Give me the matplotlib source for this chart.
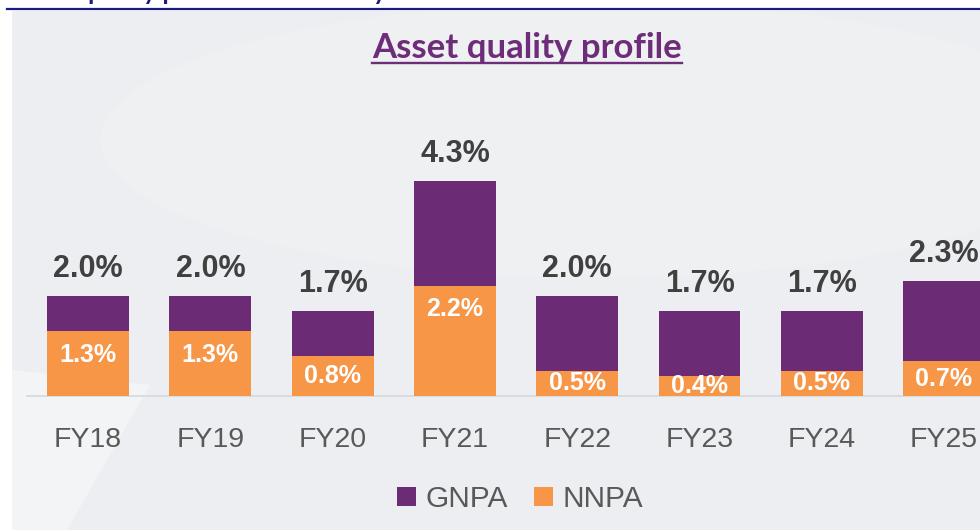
import matplotlib
matplotlib.use("Agg")
import matplotlib.pyplot as plt
from matplotlib.patches import Rectangle, Polygon, Ellipse, Patch
from matplotlib.lines import Line2D
import numpy as np

# ---- data ----
years = ["FY18", "FY19", "FY20", "FY21", "FY22", "FY23", "FY24", "FY25"]
gnpa = [2.0, 2.0, 1.7, 4.3, 2.0, 1.7, 1.7, 2.3]
nnpa = [1.3, 1.3, 0.8, 2.2, 0.5, 0.4, 0.5, 0.7]
title = "Asset quality profile"
top_text = "Asset quality profile and solvency"

PURPLE = "#6b2c75"
ORANGE = "#f79646"
LABEL = "#404040"
TICK = "#595959"
TITLE_C = "#6e2d78"
NAVY = "#1c1c7e"
PANEL = "#eceef1"

W, H = 980, 530
fig = plt.figure(figsize=(W / 100, H / 100), dpi=100)
fig.patch.set_facecolor("white")

def fx(px):
    return px / W

def fy(py):
    return (H - py) / H

# background panel
fig.patches.append(Rectangle((fx(12), 0), 1 - fx(12), fy(11), transform=fig.transFigure,
                             facecolor=PANEL, edgecolor="none", zorder=-3))
# subtle swoosh highlights
fig.patches.append(Ellipse((fx(600), fy(140)), fx(1000), 0.52, transform=fig.transFigure,
                           facecolor="white", edgecolor="none", alpha=0.12, zorder=-2))
fig.patches.append(Polygon([(fx(12), fy(370)), (fx(150), fy(385)), (fx(67), fy(530)), (fx(12), fy(530))],
                           closed=True, transform=fig.transFigure,
                           facecolor="white", edgecolor="none", alpha=0.4, zorder=-2))
# top navy rule
fig.lines.append(Line2D([fx(7), 1], [fy(9), fy(9)], transform=fig.transFigure,
                        color=NAVY, lw=1.6, zorder=2))
# truncated heading at the very top (cut off by the page edge, as in the source)
fig.text(fx(12), fy(0), top_text, color=NAVY, fontsize=18, fontweight="bold",
         family=["Lato", "DejaVu Sans"], ha="left", va="baseline", zorder=3)

# axes
ax = fig.add_axes([fx(27), fy(396), 1 - fx(27), fy(100) - fy(396)])
ax.set_zorder(1)
ax.set_facecolor("none")
x = np.arange(len(years))
bw = 0.67
ax.bar(x, gnpa, width=bw, color=PURPLE, zorder=2)
ax.bar(x, nnpa, width=bw, color=ORANGE, zorder=3)
ax.set_xlim(-0.5, 7.294)
ax.set_ylim(0, 5.92)

for xi, g in zip(x, gnpa):
    ax.annotate(f"{g:.1f}%", (xi, g), xytext=(0, 13.5), textcoords="offset points",
                ha="center", va="baseline", fontsize=22, fontweight="bold",
                color=LABEL, family=["Liberation Sans", "DejaVu Sans"], zorder=4,
                annotation_clip=False)
for xi, n in zip(x, nnpa):
    yv = max(n / 2, n - 0.47)
    ax.text(xi, yv, f"{n:.1f}%", ha="center", va="center", fontsize=18, fontweight="bold",
            color="white", family=["Liberation Sans", "DejaVu Sans"], zorder=5, clip_on=True)

for s in ["top", "left", "right"]:
    ax.spines[s].set_visible(False)
ax.spines["bottom"].set_color("#d6d8db")
ax.spines["bottom"].set_linewidth(1.2)
ax.spines["bottom"].set_zorder(1)
ax.set_yticks([])
ax.set_xticks(x)
ax.set_xticklabels(years, fontsize=20.5, color=TICK, family=["Liberation Sans", "DejaVu Sans"])
ax.tick_params(axis="x", length=0, pad=22)

# legend
handles = [Patch(facecolor=PURPLE, edgecolor="none", label="GNPA"),
           Patch(facecolor=ORANGE, edgecolor="none", label="NNPA")]
fig.legend(handles=handles, loc="center", bbox_to_anchor=(fx(520), fy(499)), ncol=2,
           frameon=False, prop={"family": ["Liberation Sans", "DejaVu Sans"], "size": 21.5},
           labelcolor=TICK, handlelength=0.64, handleheight=0.64, handletextpad=0.33,
           columnspacing=0.87, borderpad=0)

# title with underline
t = fig.text(fx(527), fy(58), title, ha="center", va="baseline", fontsize=25, fontweight="bold",
             color=TITLE_C, family=["Lato", "DejaVu Sans"])
fig.canvas.draw()
bb = t.get_window_extent()
fig.lines.append(Line2D([bb.x0 / W, bb.x1 / W], [fy(63), fy(63)], transform=fig.transFigure,
                        color=TITLE_C, lw=1.7))

fig.savefig("out.png", dpi=100, facecolor=fig.get_facecolor())
